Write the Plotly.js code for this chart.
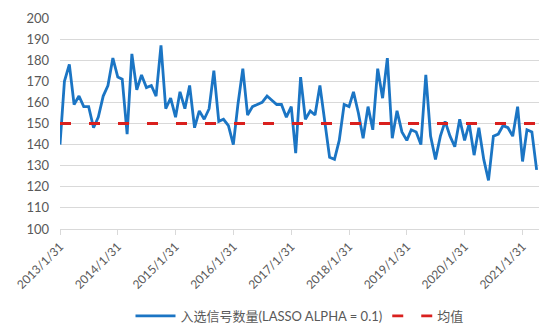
<!DOCTYPE html>
<html>
<head>
<meta charset="utf-8">
<script src="https://cdn.plot.ly/plotly-3.0.1.min.js"></script>
<style>html,body{margin:0;padding:0;background:#fff;}#chart{width:543px;height:333px;}</style>
</head>
<body>
<div id="chart"></div>
<script>
// Month-end dates 2013/1/31 .. 2021/4/30 (categories)
const startYear = 2013, startMonth = 1, nMonths = 100;
const signalCount = [
  140,170,178,159,163,158,158,148,153,163,168,181,
  172,171,145,183,166,173,167,168,163,187,157,162,
  153,165,157,168,148,156,152,157,175,151,152,149,
  140,159,176,154,158,159,160,163,161,159,159,153,
  158,136,172,152,156,154,168,150,134,133,142,159,
  158,165,155,143,158,147,176,162,181,143,156,146,
  142,147,146,140,173,144,133,144,151,144,139,152,
  142,150,135,148,133,123,144,145,149,148,144,158,
  132,147,146,128
];
const meanValue = 150;
const tickLabels = ['2013/1/31','2014/1/31','2015/1/31','2016/1/31','2017/1/31','2018/1/31','2019/1/31','2020/1/31','2021/1/31'];
const seriesNames = ['入选信号数量(LASSO ALPHA = 0.1)', '均值'];

function monthEnd(i){
  const y = startYear + Math.floor((startMonth - 1 + i) / 12);
  const m = (startMonth - 1 + i) % 12 + 1;
  const d = new Date(Date.UTC(y, m, 0)).getUTCDate();
  return y + '-' + String(m).padStart(2,'0') + '-' + String(d).padStart(2,'0');
}
const dates = [];
for (let i = 0; i < nMonths; i++) dates.push(monthEnd(i));
const tickVals = tickLabels.map(s => { const p = s.split('/'); return p[0] + '-' + p[1].padStart(2,'0') + '-' + p[2]; });
const meanSeries = dates.map(() => meanValue);

const font = 'Lato, "Noto Sans CJK SC", sans-serif';
const data = [
  {x: dates, y: signalCount, type: 'scatter', mode: 'lines', name: seriesNames[0],
   line: {color: '#1B75C4', width: 2.8}},
  {x: dates, y: meanSeries, type: 'scatter', mode: 'lines', name: seriesNames[1],
   line: {color: '#D9201E', width: 2.8, dash: '11px,18px'}}
];
const layout = {
  width: 543, height: 333,
  margin: {l: 59.6, r: 4, t: 17.5, b: 103},
  paper_bgcolor: '#fff', plot_bgcolor: '#fff',
  font: {family: font, color: '#595959', size: 12},
  showlegend: true,
  legend: {orientation: 'h', x: 0.5, xanchor: 'center', y: -0.405, yanchor: 'middle',
           font: {size: 13, color: '#595959'}, itemwidth: 40, tracegroupgap: 0},
  xaxis: {type: 'date', range: ['2013-01-31', '2021-05-15'],
          tickmode: 'array', tickvals: tickVals, ticktext: tickLabels, tickangle: -45,
          showgrid: false, showline: true, linecolor: '#d9d9d9', linewidth: 1,
          ticks: 'outside', ticklen: 5, tickcolor: '#d9d9d9',
          tickfont: {size: 12, color: '#595959'}, zeroline: false, fixedrange: true},
  yaxis: {range: [100, 200], dtick: 10, tick0: 100,
          showgrid: true, gridcolor: '#d9d9d9', gridwidth: 1,
          showline: false, zeroline: false, ticks: '', ticklen: 0,
          ticklabelstandoff: 10,
          tickfont: {size: 13, color: '#595959'}, fixedrange: true}
};
Plotly.newPlot('chart', data, layout, {displayModeBar: false, staticPlot: true});
</script>
</body>
</html>
